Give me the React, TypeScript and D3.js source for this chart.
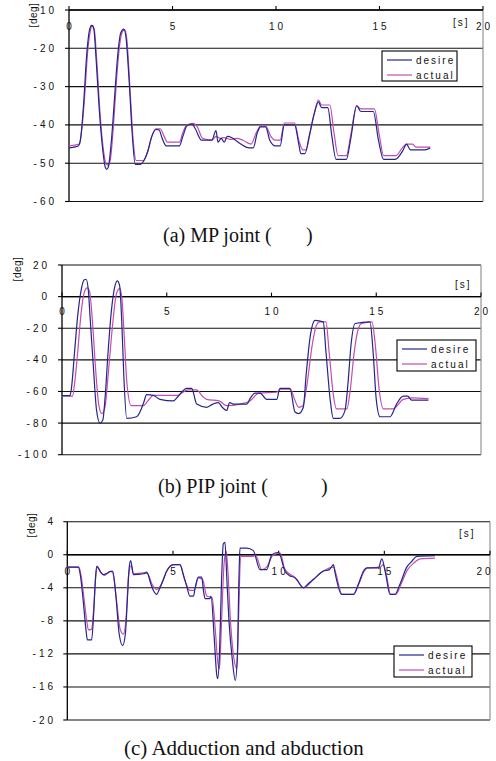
import React from "react";
import * as d3 from "d3";

// time axis shared by all three panels
const timeTicks = [0, 5, 10, 15, 20];

// (a) MP joint
const mpTicks = [-10, -20, -30, -40, -50, -60];
const mpLabels = ["10", "-20", "-30", "-40", "-50", "-60"];
const mpDesire = [
  [0, -46], [0.45, -45.5], [0.55, -44], [0.7, -35], [0.85, -22], [1.0, -15], [1.1, -14], [1.2, -15],
  [1.3, -22], [1.45, -35], [1.6, -45], [1.75, -51], [1.82, -51.6], [1.9, -51], [2.05, -44], [2.2, -33],
  [2.35, -22], [2.5, -16], [2.65, -15], [2.75, -17], [2.9, -28], [3.05, -42], [3.2, -50.3], [3.45, -50.3],
  [3.6, -49.5], [3.8, -47], [4.0, -43], [4.2, -41.2], [4.35, -41.3], [4.5, -43.5], [4.7, -45.5], [5.33, -45.5],
  [5.5, -43], [5.7, -40.2], [5.95, -39.8], [6.1, -41], [6.4, -44], [6.9, -44], [7.1, -41.5], [7.2, -44.5],
  [7.35, -43.5], [7.5, -44.5], [7.65, -43], [7.85, -43.3], [8.05, -44], [8.3, -45], [8.7, -46], [8.9, -46],
  [9.1, -42], [9.25, -40.5], [9.5, -40.5], [9.7, -44], [9.97, -45.5], [10.2, -45.5], [10.4, -40], [10.9, -40],
  [11.1, -45], [11.2, -47.5], [11.4, -47.5], [11.6, -43], [11.85, -37], [12.05, -34], [12.2, -35.5], [12.5, -35.5],
  [12.7, -43], [12.9, -49], [13.4, -49], [13.6, -44], [13.9, -35], [14.1, -36.5], [14.7, -36.5], [14.95, -44],
  [15.2, -49], [15.75, -49], [16.15, -46.5], [16.3, -45], [16.5, -46.5], [17.2, -46.5], [17.45, -46],
];
const mpActual = [
  [0, -45.5], [0.5, -45], [0.6, -42], [0.75, -33], [0.9, -21], [1.05, -15], [1.12, -14], [1.22, -15],
  [1.35, -24], [1.5, -37], [1.65, -46], [1.8, -50.3], [1.9, -50.5], [2.0, -49], [2.15, -40], [2.3, -28],
  [2.45, -19], [2.6, -15.5], [2.7, -15.2], [2.8, -18], [2.95, -31], [3.1, -44], [3.25, -49.3], [3.6, -49.3],
  [3.8, -47], [4.0, -43], [4.2, -41], [4.4, -41], [4.6, -43], [4.75, -44.5], [5.33, -44.5], [5.5, -42],
  [5.7, -40], [6.0, -39.6], [6.2, -40.5], [6.45, -43.5], [6.9, -44], [7.1, -43], [7.3, -43.5], [7.5, -43.3],
  [7.8, -43.8], [8.1, -43.5], [8.4, -44], [8.8, -45], [9.05, -42], [9.25, -40.3], [9.5, -40.3], [9.75, -43],
  [9.95, -44], [10.2, -44], [10.4, -39.5], [10.9, -39.5], [11.1, -44], [11.3, -46.5], [11.45, -46.5], [11.65, -42],
  [11.85, -37], [12.05, -33.5], [12.2, -34.8], [12.6, -34.8], [12.8, -42], [13.0, -48], [13.4, -48], [13.6, -43],
  [13.9, -35], [14.1, -35.8], [14.75, -35.8], [15.0, -43], [15.2, -48], [15.8, -48], [16.1, -46], [16.3, -45],
  [16.6, -45], [16.75, -45.8], [17.45, -45.8],
];

// (b) PIP joint
const pipTicks = [20, 0, -20, -40, -60, -80, -100];
const pipLabels = ["20", "0", "-20", "-40", "-60", "-80", "-100"];
const pipDesire = [
  [0, -62.6], [0.38, -62.6], [0.45, -58], [0.6, -35], [0.75, -12], [0.9, 3], [1.05, 10.5], [1.15, 11],
  [1.25, 5], [1.35, -15], [1.5, -45], [1.65, -72], [1.81, -80], [1.95, -78], [2.05, -65], [2.2, -35],
  [2.35, -10], [2.5, 5], [2.64, 10], [2.75, 7], [2.85, -15], [2.95, -50], [3.09, -77], [3.56, -76],
  [3.72, -73], [3.9, -67], [4.04, -62], [4.36, -62.5], [4.68, -65], [5.31, -66], [5.55, -63], [5.95, -58],
  [6.19, -58], [6.43, -68], [6.91, -70], [7.2, -68], [7.46, -67], [7.65, -70], [7.86, -72], [8.0, -67],
  [8.18, -68], [8.82, -68], [9.0, -64], [9.21, -61], [9.45, -61], [9.77, -65], [10.25, -65], [10.4, -58],
  [10.88, -58], [11.12, -73], [11.3, -74], [11.52, -70], [11.65, -50], [11.85, -25], [12.08, -15], [12.47, -16],
  [12.6, -35], [12.8, -65], [12.95, -77], [13.27, -77], [13.51, -72], [13.65, -55], [13.8, -30], [13.99, -17],
  [14.7, -16], [14.85, -35], [15.0, -65], [15.18, -76], [15.66, -76], [15.97, -68], [16.29, -63], [16.5, -63],
  [16.69, -65.5], [17.49, -65.5],
];
const pipActual = [
  [0, -63], [0.5, -63], [0.6, -55], [0.75, -35], [0.9, -12], [1.05, 2], [1.2, 5.5], [1.32, 3],
  [1.45, -15], [1.6, -45], [1.75, -68], [1.9, -74], [2.05, -70], [2.2, -50], [2.4, -20], [2.6, 2],
  [2.75, 5], [2.85, 0], [2.97, -25], [3.1, -55], [3.3, -69], [3.88, -69], [4.1, -66], [4.36, -62.5],
  [5.5, -62.5], [6.0, -59], [6.43, -59], [6.7, -63], [6.9, -65], [7.5, -66], [7.86, -69], [8.5, -68],
  [8.97, -66], [9.4, -61], [10.25, -60.5], [10.45, -58.5], [10.9, -58.5], [11.1, -65], [11.3, -70], [11.5, -69],
  [11.7, -55], [11.95, -30], [12.15, -18], [12.3, -16], [12.6, -16], [12.75, -35], [12.95, -62], [13.1, -71],
  [13.6, -71], [13.75, -60], [13.95, -35], [14.15, -20], [14.3, -17], [14.8, -16], [14.95, -30], [15.15, -60],
  [15.34, -71], [15.8, -71], [16.29, -65], [16.7, -64], [17.5, -64.5],
];

// (c) adduction / abduction
const abTicks = [4, 0, -4, -8, -12, -16, -20];
const abLabels = ["4", "0", "-4", "-8", "-12", "-16", "-20"];
const abDesire = [
  [0, -1.5], [0.52, -1.5], [0.62, -2.5], [0.75, -5.5], [0.88, -9], [0.95, -10.3], [1.15, -10.3], [1.25, -7],
  [1.33, -3], [1.39, -1.4], [1.55, -2], [1.7, -2.4], [1.9, -2.2], [2.05, -2], [2.15, -2], [2.3, -5],
  [2.45, -9.5], [2.62, -11], [2.75, -9.5], [2.85, -5], [2.93, -1.5], [3.0, -0.7], [3.13, -2.4], [3.6, -2.3],
  [3.76, -2.1], [3.95, -3.5], [4.07, -4.3], [4.23, -4.8], [4.35, -4.2], [4.55, -3], [4.7, -2], [5.02, -1.2],
  [5.33, -1.2], [5.5, -2.5], [5.65, -3.8], [5.8, -5], [5.97, -5], [6.05, -4], [6.2, -2.7], [6.36, -2.7],
  [6.45, -4.5], [6.52, -5.3], [6.75, -5.3], [6.8, -5], [6.95, -10], [7.07, -14.5], [7.12, -15], [7.2, -12],
  [7.3, -3], [7.38, 1.3], [7.46, 1.5], [7.55, -3], [7.65, -8], [7.8, -12.5], [7.95, -15.2], [8.05, -12],
  [8.12, -3], [8.17, 0.8], [8.49, 0.8], [8.8, 0.5], [9.12, -1.8], [9.43, -1.8], [9.68, 0], [9.99, 0.3],
  [10.3, -2], [10.5, -2.5], [10.77, -2.8], [10.85, -3], [11.17, -4], [11.4, -3.5], [11.64, -3], [12.1, -2],
  [12.4, -1.8], [12.59, -1.2], [12.67, -2.2], [12.98, -4.8], [13.54, -4.8], [13.78, -3.5], [14.01, -2], [14.17, -1.6],
  [14.72, -1.6], [14.88, -0.5], [15.04, -2], [15.27, -4.8], [15.5, -4.8], [15.75, -3.5], [16.06, -1.5], [16.3, -0.8],
  [16.53, -0.2], [17.4, -0.1],
];
const abActual = [
  [0, -1.5], [0.55, -1.5], [0.65, -2.5], [0.8, -5.5], [0.92, -8], [1.0, -9.1], [1.15, -9], [1.25, -6.5],
  [1.35, -2.5], [1.42, -1.4], [1.6, -2.2], [1.75, -2.5], [2.05, -2], [2.15, -2.2], [2.35, -6], [2.5, -9],
  [2.65, -9.6], [2.8, -7], [2.9, -2.5], [3.02, -1.3], [3.13, -2.3], [3.6, -2.2], [3.8, -2.3], [4.0, -3.5],
  [4.23, -4.2], [4.4, -3.8], [4.7, -2], [5.02, -1.2], [5.33, -1.2], [5.55, -3], [5.8, -4.3], [6.0, -4.3],
  [6.2, -2.8], [6.4, -3], [6.6, -5], [6.85, -5.2], [7.0, -9], [7.12, -13], [7.2, -13.8], [7.3, -8],
  [7.42, -1], [7.52, 0.4], [7.6, -2], [7.72, -8], [7.88, -12.5], [8.02, -13.8], [8.1, -8], [8.2, -0.2],
  [8.8, -0.2], [8.9, 0], [9.2, -1.8], [9.43, -1.5], [9.75, 0], [10.07, 0.2], [10.3, -1.8], [10.8, -2.8],
  [11.2, -4], [11.64, -3], [12.1, -2], [12.6, -1.5], [12.7, -2.2], [13.0, -4.8], [13.54, -4.8], [13.8, -3.5],
  [14.05, -2], [14.2, -1.6], [14.8, -1.5], [14.95, -1.2], [15.1, -2.5], [15.3, -4.8], [15.55, -4.8], [15.8, -3.5],
  [16.1, -1.8], [16.4, -1], [16.7, -0.5], [17.4, -0.4],
];

const seriesNames = ["desire", "actual"];
const DESIRE = "#25258a";
const ACTUAL = "#c24cb0";
const SANS = "'Liberation Sans', Arial, sans-serif";
const SERIF = "'Liberation Serif', 'Times New Roman', serif";

function Panel({ x0, x1, y0, y1, yDomain, yTicks, yLabels, desire, actual, labelRight, xLabelY, sAt, degAt, legend }) {
  const x = d3.scaleLinear().domain([0, 20]).range([x0, x1]);
  const y = d3.scaleLinear().domain(yDomain).range([y1, y0]);
  const line = d3
    .line<number[]>()
    .x((d) => x(d[0]))
    .y((d) => y(d[1]))
    .curve(d3.curveMonotoneX);
  const axisY = y(Math.min(0, yDomain[1]));

  return (
    <g>
      {yTicks.map((t) => (
        <line key={"g" + t} x1={x0} x2={x1} y1={y(t)} y2={y(t)} stroke="#111" strokeWidth={1.1} />
      ))}
      <line x1={x1} x2={x1} y1={y0} y2={y1} stroke="#8a8a8a" strokeWidth={1.1} />
      <line x1={x0} x2={x0} y1={y0} y2={y1} stroke="#000" strokeWidth={1.3} />
      {yTicks.map((t) => (
        <line key={"t" + t} x1={x0 - 4} x2={x0} y1={y(t)} y2={y(t)} stroke="#000" strokeWidth={1.1} />
      ))}
      <line x1={x0} x2={x1} y1={axisY} y2={axisY} stroke="#000" strokeWidth={1.3} />
      {timeTicks.map((t) => (
        <line key={"xt" + t} x1={x(t)} x2={x(t)} y1={axisY - 4} y2={axisY} stroke="#000" strokeWidth={1.1} />
      ))}
      {timeTicks.map((t) => (
        <text key={"xl" + t} x={Math.min(x(t) + 1.5, 485)} y={xLabelY} textAnchor="middle" fontFamily={SANS}
          fontSize={10} letterSpacing={3} fill="#111">
          {t}
        </text>
      ))}
      {yTicks.map((t, i) => (
        <text key={"yl" + t} x={labelRight + 3} y={y(t) + 3.5} textAnchor="end" fontFamily={SANS}
          fontSize={10} letterSpacing={3} fill="#111">
          {yLabels[i]}
        </text>
      ))}
      <text x={sAt[0]} y={sAt[1]} fontFamily={SANS} fontSize={10} letterSpacing={2} fill="#111">[s]</text>
      <text transform={`translate(${degAt[0]},${degAt[1]}) rotate(-90)`} textAnchor="middle"
        fontFamily={SANS} fontSize={10} letterSpacing={0.5} fill="#111">
        [deg]
      </text>
      <path d={line(actual) || ""} fill="none" stroke={ACTUAL} strokeWidth={1.2} />
      <path d={line(desire) || ""} fill="none" stroke={DESIRE} strokeWidth={1.2} />
      <g>
        <rect x={legend.x} y={legend.y} width={legend.w} height={legend.h} fill="#fff" stroke="#000" strokeWidth={1.1} />
        {seriesNames.map((name, i) => {
          const ly = legend.y + 9 + i * 15;
          return (
            <g key={name}>
              <line x1={legend.x + 5} x2={legend.x + 30} y1={ly} y2={ly} stroke={i === 0 ? DESIRE : ACTUAL} strokeWidth={1.2} />
              <text x={legend.x + 34} y={ly + 3.5} fontFamily={SANS} fontSize={10} letterSpacing={2} fill="#111">
                {name}
              </text>
            </g>
          );
        })}
      </g>
    </g>
  );
}

export default function App() {
  return (
    <svg width={496} height={761} style={{ position: "absolute", left: 0, top: 0, background: "#fff" }}>
      <Panel x0={69} x1={483} y0={10} y1={201.5} yDomain={[-60, -10]} yTicks={mpTicks} yLabels={mpLabels}
        desire={mpDesire} actual={mpActual} labelRight={54} xLabelY={30} sAt={[453, 26]} degAt={[37, 15]}
        legend={{ x: 382, y: 51, w: 75, h: 30 }} />
      <text x={163} y={242} fontFamily={SERIF} fontSize={20} fill="#111">(a) MP joint (</text>
      <text x={306} y={242} fontFamily={SERIF} fontSize={20} fill="#111">)</text>

      <Panel x0={62} x1={481} y0={265} y1={454.7} yDomain={[-100, 20]} yTicks={pipTicks} yLabels={pipLabels}
        desire={pipDesire} actual={pipActual} labelRight={47} xLabelY={315} sAt={[455, 288]} degAt={[21, 269]}
        legend={{ x: 397, y: 340, w: 79, h: 31 }} />
      <text x={158} y={493} fontFamily={SERIF} fontSize={20} fill="#111">(b) PIP joint (</text>
      <text x={321} y={493} fontFamily={SERIF} fontSize={20} fill="#111">)</text>

      <Panel x0={67.3} x1={490} y0={521.7} y1={720} yDomain={[-20, 4]} yTicks={abTicks} yLabels={abLabels}
        desire={abDesire} actual={abActual} labelRight={53} xLabelY={575} sAt={[459, 537]} degAt={[35, 525]}
        legend={{ x: 394, y: 646, w: 78, h: 31 }} />
      <text x={124} y={755} fontFamily={SERIF} fontSize={21} fill="#111">(c) Adduction and abduction</text>
    </svg>
  );
}
